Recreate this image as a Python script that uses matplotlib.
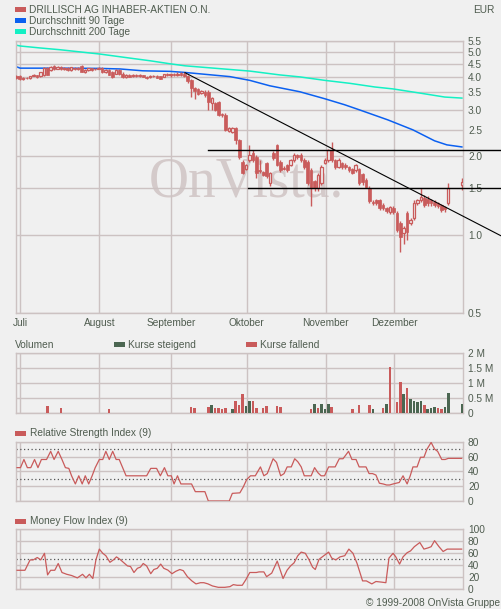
import numpy as np
import matplotlib.pyplot as plt
from matplotlib.patches import Rectangle

plt.rcParams['font.family'] = ['Liberation Sans', 'DejaVu Sans']
plt.rcParams['font.size'] = 7.3

W, H = 501, 609
BG = '#f0f0f0'
GRID = '#ccc2c2'
TXT = '#4f5c4f'
RED = '#c95b5b'
GREEN = '#4b6651'
BLUE = '#0b60f0'
CYAN = '#14f0c4'

months = ['Juli', 'August', 'September', 'Oktober', 'November', 'Dezember']
month_first = [0, 23, 44, 66, 89, 109]
nan = np.nan

# daily candles, day index -2 .. 128 (weekdays, 0 = 1 July)
opens = [4.04, 4.02, 3.92, 3.97, 3.95, 4.04, 4.06, 4.02, 4.05, 4.34,
         4.25, 4.42, 4.30, 4.36, 4.28, 4.33, 4.25, 4.34, 4.27, 4.40,
         4.17, 4.25, 4.31, 4.27, 4.30, 4.32, 4.17, 4.26, 4.17, 4.12,
         4.24, 4.12, 3.99, 4.08, 4.02, 4.07, 4.03, 4.06, 4.01, 3.98,
         4.03, 4.04, 4.02, 4.00, 4.10, 4.05, 4.10, 4.06, 4.15, 4.12,
         4.02, 3.90, 3.63, 3.60, 3.47, 3.50, 3.50, 3.19, 3.19, 3.20,
         2.88, 2.87, 2.49, 2.46, 2.55, 2.30, 1.90, 1.78, 1.93, 2.05,
         1.98, 1.76, 1.73, 1.88, 1.57, 2.05, 2.20, 1.90, 1.80, 1.84,
         1.84, 1.93, 2.01, 2.01, 1.93, 1.90, 1.76, 1.60, 1.50, 1.57,
         1.88, 1.93, 2.10, 1.93, 1.81, 1.88, 1.84, 1.81, 1.78, 1.76,
         1.78, 1.70, 1.62, 1.51, 1.33, 1.35, 1.35, 1.30, 1.26, 1.22,
         1.26, 1.21, 1.11, 1.01, 1.21, 1.11, 1.16, 1.32, 1.35, 1.38,
         1.37, 1.35, 1.33, 1.32, 1.30, 1.27, 1.32, nan, nan, nan, 1.55]
closes = [3.97, 3.92, 3.97, 3.95, 4.02, 4.08, 3.98, 4.17, 4.33, 4.08,
          4.38, 4.28, 4.36, 4.27, 4.32, 4.24, 4.35, 4.27, 4.32, 4.19,
          4.25, 4.31, 4.26, 4.30, 4.33, 4.17, 4.26, 4.08, 4.00, 4.24,
          4.09, 3.98, 4.08, 4.01, 4.07, 4.02, 4.06, 4.01, 3.97, 4.03,
          4.04, 3.97, 3.94, 4.10, 4.05, 4.09, 4.05, 4.12, 4.05, 4.03,
          3.85, 3.64, 3.52, 3.45, 3.52, 3.40, 3.22, 3.33, 2.99, 2.87,
          2.85, 2.51, 2.55, 2.56, 2.30, 1.98, 1.72, 1.84, 2.01, 1.93,
          1.72, 1.75, 1.69, 1.67, 1.72, 1.96, 1.84, 1.76, 1.78, 1.76,
          1.93, 2.01, 1.98, 1.93, 1.81, 1.57, 1.51, 1.50, 1.69, 1.81,
          1.93, 2.10, 1.93, 1.81, 1.93, 1.81, 1.81, 1.76, 1.72, 1.84,
          1.57, 1.58, 1.52, 1.34, 1.32, 1.32, 1.26, 1.26, 1.23, 1.27,
          1.22, 1.04, 0.98, 1.06, 1.02, 1.14, 1.32, 1.35, 1.39, 1.30,
          1.32, 1.32, 1.30, 1.28, 1.24, 1.25, 1.51, nan, nan, nan, 1.58]
highs = [4.07, 4.05, 4.00, 3.99, 4.04, 4.11, 4.08, 4.19, 4.36, 4.38,
         4.42, 4.46, 4.40, 4.40, 4.36, 4.38, 4.38, 4.37, 4.36, 4.44,
         4.28, 4.34, 4.34, 4.33, 4.36, 4.36, 4.30, 4.28, 4.20, 4.27,
         4.27, 4.16, 4.10, 4.12, 4.10, 4.11, 4.09, 4.08, 4.04, 4.05,
         4.06, 4.06, 4.04, 4.12, 4.13, 4.12, 4.15, 4.16, 4.19, 4.17,
         4.05, 3.92, 3.66, 3.62, 3.55, 3.56, 3.58, 3.36, 3.22, 3.24,
         2.92, 2.90, 2.58, 2.58, 2.58, 2.32, 1.93, 1.86, 2.20, 2.10,
         2.01, 1.93, 1.75, 1.90, 1.74, 2.08, 2.22, 1.93, 1.82, 1.86,
         1.95, 2.04, 2.03, 2.04, 1.96, 1.93, 1.79, 1.62, 1.72, 1.84,
         1.96, 2.12, 2.26, 1.95, 1.96, 1.90, 1.87, 1.83, 1.80, 1.86,
         1.80, 1.72, 1.64, 1.53, 1.35, 1.37, 1.37, 1.32, 1.27, 1.28,
         1.28, 1.23, 1.13, 1.08, 1.23, 1.16, 1.35, 1.37, 1.51, 1.41,
         1.40, 1.37, 1.35, 1.33, 1.31, 1.29, 1.57, nan, nan, nan, 1.64]
lows = [3.94, 3.88, 3.88, 3.92, 3.94, 4.02, 3.96, 4.00, 4.03, 4.05,
        4.22, 4.24, 4.27, 4.24, 4.24, 4.22, 4.22, 4.24, 4.25, 4.17,
        4.14, 4.22, 4.23, 4.24, 4.27, 4.14, 4.14, 4.05, 3.96, 4.10,
        4.06, 3.95, 3.96, 3.98, 4.00, 4.00, 4.00, 3.99, 3.94, 3.96,
        4.00, 3.95, 3.91, 3.98, 4.02, 4.00, 4.02, 4.04, 4.02, 4.00,
        3.80, 3.35, 3.30, 3.42, 3.44, 3.35, 2.98, 2.99, 2.96, 2.84,
        2.82, 2.48, 2.46, 2.44, 2.22, 1.95, 1.70, 1.76, 1.90, 1.90,
        1.64, 1.72, 1.67, 1.65, 1.53, 1.93, 1.82, 1.73, 1.76, 1.74,
        1.82, 1.90, 1.95, 1.90, 1.78, 1.55, 1.28, 1.47, 1.47, 1.55,
        1.86, 1.90, 1.90, 1.78, 1.79, 1.78, 1.78, 1.73, 1.70, 1.74,
        1.55, 1.54, 1.50, 1.32, 1.30, 1.30, 1.24, 1.24, 1.21, 1.20,
        1.20, 1.02, 0.86, 0.92, 0.95, 1.09, 1.14, 1.30, 1.33, 1.27,
        1.28, 1.28, 1.27, 1.26, 1.22, 1.22, 1.30, nan, nan, nan, 1.48]

# moving averages (read at intervals)
ma90_x = [-2.1, -0.9, 10.7, 22.4, 28.2, 34.9, 42.8, 47.2, 51.5, 60.3, 66.1,
          71.9, 80.7, 88.0, 93.8, 98.2, 106.4, 113.7, 120.0, 123.6, 128.0]
ma90_y = [4.38, 4.32, 4.32, 4.31, 4.29, 4.22, 4.20, 4.16, 4.11, 4.01, 3.88,
          3.70, 3.51, 3.30, 3.13, 2.99, 2.74, 2.51, 2.28, 2.20, 2.16]
ma200_x = [-1.8, -0.9, 4.9, 10.7, 22.4, 31.1, 37.0, 42.8, 47.2, 66.1, 74.9,
           80.7, 88.0, 95.3, 102.6, 107.8, 115.7, 123.0, 128.0]
ma200_y = [5.28, 5.25, 5.16, 5.08, 4.89, 4.72, 4.61, 4.49, 4.41, 4.21, 4.07,
           4.00, 3.88, 3.78, 3.66, 3.60, 3.47, 3.35, 3.32]

# drawn lines: trend line and two horizontals
trend_x = [47.2, 139.3]
trend_y = [4.15, 0.99]
hline_levels = [2.10, 1.51]
hline_start = [53.9, 65.5]
line_end = 139.3

# volume (million), only days with bars
vol_day = [7, 11, 25, 49, 50, 54, 55, 56, 57, 58, 59, 61, 62, 63, 64, 65, 66, 67,
           68, 70, 71, 74, 75, 84, 85, 86, 87, 88, 89, 90, 96, 98, 101, 102, 105,
           106, 107, 109, 110, 111, 112, 113, 114, 115, 116, 117, 118, 119, 120,
           121, 122, 123, 124, 128]
vol_m = [0.24, 0.18, 0.14, 0.21, 0.18, 0.21, 0.28, 0.18, 0.18, 0.14, 0.18, 0.14,
         0.41, 0.28, 0.64, 0.24, 0.41, 0.41, 0.18, 0.18, 0.24, 0.24, 0.21, 0.14,
         0.31, 0.18, 0.31, 0.14, 0.31, 0.21, 0.14, 0.28, 0.28, 0.14, 0.18, 0.31,
         1.54, 0.38, 1.04, 0.64, 0.84, 0.48, 0.41, 0.38, 0.41, 0.28, 0.14, 0.18,
         0.21, 0.18, 0.14, 0.21, 0.68, 0.31]
vol_up = [0, 0, 0, 0, 0, 0, 1, 0, 0, 0, 0, 1, 0, 0, 0, 1, 1, 0, 0, 0, 0, 0, 0, 0,
          1, 0, 1, 1, 1, 0, 0, 0, 0, 1, 0, 1, 0, 0, 0, 1, 0, 1, 1, 1, 1, 0, 1, 1,
          1, 0, 0, 1, 1, 1]

rsi_x = [-1.8, -0.8, 0.2, 1.2, 2.2, 3.3, 4.3, 5.3, 6.8, 8, 9, 10.2, 11.3, 12.3,
         13.3, 14.1, 15.2, 16.2, 17.2, 18.1, 19.1, 20.1, 21, 22.2, 23.2, 24.1,
         25.1, 26.1, 27.1, 28, 29, 30, 36, 37.2, 38.9, 40, 41.2, 42.2, 43.2, 44,
         45, 46, 49.1, 50.2, 53, 54, 60.1, 61, 63.2, 64.2, 65.2, 66.3, 67.7, 69.2,
         70.2, 71.2, 72.9, 73.9, 75.1, 76.1, 77, 78.2, 79.2, 80.1, 81.1, 82, 84,
         85, 86, 86.9, 87.9, 89.1, 91, 92.2, 93.3, 94.9, 95.9, 97.1, 98, 100,
         100.9, 101.9, 102.9, 103.9, 105, 106, 106.9, 107.9, 109.7, 110.8, 112,
         112.9, 113.7, 114.9, 115.9, 116.9, 117.8, 119, 120, 120.9, 122.1, 123.1,
         124, 127.9]
rsi_v = [45, 45, 56, 45, 45, 56, 45, 56, 56, 67, 56, 67, 56, 45,
         44, 34, 23, 34, 23, 34, 23, 34, 45, 56, 56, 67,
         56, 67, 56, 56, 45, 34, 34, 44, 44, 34, 45, 34, 34, 23,
         34, 23, 23, 12.6, 12.6, 0, 0, 10.3, 11, 19, 29, 34, 34, 46,
         34, 37, 57, 52, 34, 37, 46, 46, 57, 53, 46, 34, 34,
         45, 38, 34, 34, 46, 46, 57, 57, 67, 56, 56, 46, 46,
         37, 37, 35, 24, 23, 21.6, 21.6, 23, 25, 34, 23,
         34, 46, 46, 59, 59, 70, 79, 70, 67, 56, 56,
         57.5, 57.5]

mfi_x = [-1.8, 0.5, 2, 2.9, 4.1, 5.1, 6.2, 7.1, 8, 9.2, 10.2, 11.3, 12.7, 14.1,
         15.8, 17.3, 18.3, 19.3, 20.3, 21.2, 22.2, 23.2, 24.1, 25.3, 26.3, 27.2,
         28.2, 29.4, 30.4, 31.3, 32.3, 33.3, 34.2, 35, 36, 37.2, 38.1, 39.1, 40.1,
         41, 42.2, 43.4, 44.5, 45.7, 46.7, 47.9, 49.2, 50.4, 51.7, 52.7, 53.9,
         55.2, 56.9, 58.8, 60.3, 61.3, 62.4, 63.9, 64.9, 66.1, 68, 68.8, 70.2, 71,
         72.5, 74.1, 75.8, 77, 78, 79, 80.1, 81.1, 82.3, 83.4, 84.4, 85.2, 86.3,
         87.7, 89.1, 90, 91.2, 92.4, 93.8, 95, 96.2, 97.4, 99, 100.1, 101.7, 102.9,
         104.5, 105.8, 106.7, 107.9, 108.7, 109.8, 110.8, 112, 113, 114.1, 115.7,
         116.9, 118.1, 119, 120, 121.3, 122.5, 123.7, 127.9]
mfi_v = [31.7, 31.7, 49, 49, 53, 49, 60, 24, 31.7, 31.7, 43, 28, 25, 23,
         19, 25, 19, 25, 18, 49, 67, 60, 56, 45, 49, 54,
         50, 44, 39, 38, 28, 35, 37, 43, 39, 26, 33, 35, 42,
         35, 32, 26, 30, 33, 31, 21, 14, 9, 11, 11, 9,
         5.6, 3.3, 3.3, 4.4, 7.8, 6.7, 6.7, 15.6, 28, 28, 29, 29, 21,
         27, 47, 18, 32, 39, 44, 56, 62, 60, 49, 37, 33, 50,
         56, 62, 52, 49, 54, 56, 67, 60, 43, 14, 14, 9, 13,
         12, 11, 52, 60, 54, 42, 54, 61, 64, 71, 78,
         67, 69, 71, 81, 71, 63, 67, 67]

days = np.arange(-2, -2 + len(opens))
o, c = np.array(opens), np.array(closes)
hi, lo = np.array(highs), np.array(lows)
grid_x = [m - 0.8 for m in month_first]


def box(top, bottom):
    return [15.7 / W, 1 - bottom / H, (463 - 15.7) / W, (bottom - top) / H]


def setup(ax, labels=False):
    ax.set_facecolor(BG)
    for s in ax.spines.values():
        s.set_color(GRID)
        s.set_linewidth(1)
    ax.set_xlim(-2.2, 128.3)
    ax.set_xticks(grid_x)
    ax.set_xticklabels(months if labels else [])
    ax.yaxis.tick_right()
    ax.tick_params(length=0, labelcolor=TXT, labelsize=7.3, pad=3.6)
    ax.grid(True, color=GRID, lw=1)
    ax.set_axisbelow(True)


fig = plt.figure(figsize=(W / 100, H / 100), dpi=100, facecolor=BG)

# price panel
ax = fig.add_axes(box(40.7, 313.3))
setup(ax, labels=True)
ax.set_yscale('log')
ax.set_ylim(0.5, 5.5)
yt = [0.5, 1.0, 1.5, 2.0, 2.5, 3.0, 3.5, 4.0, 4.5, 5.0, 5.5]
ax.set_yticks(yt, labels=[f'{v:.1f}' for v in yt])
ax.minorticks_off()

ax.text(0.515, 0.427, 'OnVista.', transform=ax.transAxes, ha='center',
        va='baseline', fontsize=40, family='Liberation Serif', color='#d4caca',
        zorder=0.4)

ax.plot(ma200_x, ma200_y, color=CYAN, lw=1.1, zorder=2)
ax.plot(ma90_x, ma90_y, color=BLUE, lw=1.1, zorder=2)

ok = ~np.isnan(o)
ax.vlines(days[ok], lo[ok], hi[ok], color=RED, lw=1.0, zorder=3)
up = ok & (c >= o)
dn = ok & (c < o)
body_lo = np.fmin(o, c)
body_h = np.maximum(np.abs(c - o), 0.015)
ax.bar(days[dn], body_h[dn], bottom=body_lo[dn], width=0.78, color=RED,
       edgecolor=RED, lw=0.5, zorder=3)
ax.bar(days[up], body_h[up], bottom=body_lo[up], width=0.72, color=BG,
       edgecolor=RED, lw=0.9, zorder=3)

ax.plot(trend_x, trend_y, color='black', lw=0.8, clip_on=False, zorder=4)
for lvl, x0 in zip(hline_levels, hline_start):
    ax.plot([x0, line_end], [lvl, lvl], color='black', lw=1.0, clip_on=False,
            zorder=4)

# volume panel
axv = fig.add_axes(box(353.3, 413.3))
setup(axv)
axv.set_ylim(0, 2)
axv.set_yticks([0, 0.5, 1, 1.5, 2], labels=['0', '0.5 M', '1 M', '1.5 M', '2 M'])
axv.bar(vol_day, vol_m, width=0.75,
        color=[GREEN if u else RED for u in vol_up], zorder=3)

# RSI panel
axr = fig.add_axes(box(441.7, 501))
setup(axr)
axr.set_ylim(0, 80)
axr.set_yticks([0, 20, 40, 60, 80])
for lvl in (30, 70):
    axr.axhline(lvl, color='#555555', lw=0.9, ls=(0, (1, 2)), zorder=2)
axr.plot(rsi_x, rsi_v, color=RED, lw=0.9, zorder=3)

# MFI panel
axm = fig.add_axes(box(529.3, 589.3))
setup(axm)
axm.set_ylim(0, 100)
axm.set_yticks([0, 20, 40, 60, 80, 100])
axm.axhline(50, color='#555555', lw=0.9, ls=(0, (1, 2)), zorder=2)
axm.plot(mfi_x, mfi_v, color=RED, lw=0.9, zorder=3)


def patch(x, y, color, w=10.7, h=5):
    fig.add_artist(Rectangle((x / W, 1 - (y + h) / H), w / W, h / H,
                             transform=fig.transFigure, color=color, lw=0))


def label(x, y, s, ha='left'):
    fig.text(x / W, 1 - y / H, s, ha=ha, va='center', color=TXT, fontsize=7.3)


patch(15, 6.7, RED)
label(29.3, 10, 'DRILLISCH AG INHABER-AKTIEN O.N.')
patch(15, 17.7, BLUE)
label(29.3, 21, 'Durchschnitt 90 Tage')
patch(15, 28.7, CYAN)
label(29.3, 32, 'Durchschnitt 200 Tage')
label(495, 10, 'EUR', ha='right')

label(15, 344.5, 'Volumen')
patch(114, 342.3, GREEN)
label(128.5, 344.5, 'Kurse steigend')
patch(246, 342.3, RED)
label(260, 344.5, 'Kurse fallend')

patch(15, 430.7, RED)
label(29.7, 433, 'Relative Strength Index (9)')
patch(15, 519, RED)
label(29.7, 521.5, 'Money Flow Index (9)')

label(500, 603, '\u00a9 1999-2008 OnVista Gruppe', ha='right')

fig.savefig('out.png', dpi=100, facecolor=BG)
